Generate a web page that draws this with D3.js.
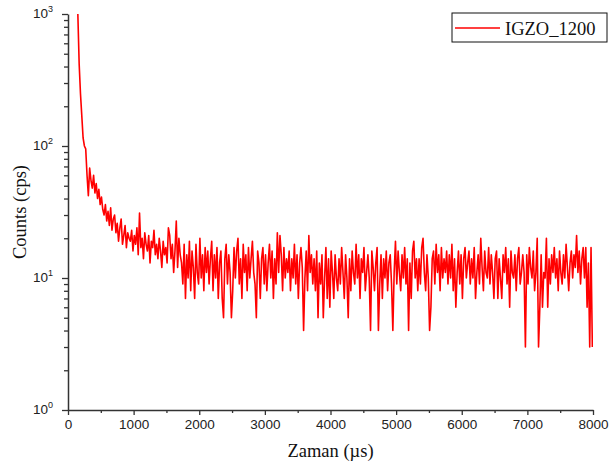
<!DOCTYPE html>
<html>
<head>
<meta charset="utf-8">
<script src="https://cdn.jsdelivr.net/npm/d3@7"></script>
<style>
  body { margin: 0; background: #fff; }
</style>
</head>
<body>
<svg width="610" height="464"></svg>
<script>

// sample times: first channel and channel width (µs)
let timeStart = 150, timeStep = 20;

// counts, one per channel, 20 per row
let counts = [
  1000, 420, 250, 170, 115, 100, 95, 60, 42, 68, 55, 48, 60, 44, 52, 40, 47, 36, 41, 33,
  30, 36, 27, 32, 25, 34, 23, 28, 30, 22, 26, 19, 24, 28, 18, 21, 25, 17, 22, 20,
  19, 23, 16, 21, 18, 24, 15, 31, 17, 20, 14, 22, 18, 16, 21, 13, 19, 17, 23, 15,
  18, 14, 20, 16, 12, 19, 15, 17, 13, 24, 21, 14, 18, 11, 16, 27, 12, 20, 15, 13,
  9, 18, 7, 15, 10, 19, 8, 16, 12, 7, 18, 11, 9, 20, 10, 15, 8, 17, 11, 16,
  9, 14, 19, 8, 15, 10, 17, 7, 13, 16, 7, 5, 14, 18, 9, 15, 11, 5, 8, 17,
  10, 16, 20, 9, 14, 7, 18, 11, 15, 8, 17, 10, 14, 19, 11, 9, 5, 16, 13, 7,
  14, 17, 9, 15, 8, 13, 18, 10, 16, 7, 14, 9, 22, 11, 21, 15, 8, 17, 10, 14,
  11, 16, 8, 14, 10, 18, 9, 15, 7, 13, 17, 12, 4, 10, 16, 8, 21, 11, 15, 9,
  14, 8, 16, 5, 13, 9, 15, 5, 10, 17, 7, 14, 6, 16, 11, 7, 15, 10, 8, 14,
  9, 17, 11, 7, 15, 10, 5, 14, 8, 16, 11, 9, 18, 10, 15, 7, 14, 11, 17, 8,
  11, 15, 10, 4, 16, 12, 8, 13, 17, 4, 9, 15, 7, 14, 10, 16, 8, 13, 15, 9,
  4, 11, 19, 9, 16, 11, 8, 15, 10, 17, 9, 14, 4, 13, 7, 16, 19, 10, 14, 8,
  14, 9, 17, 20, 11, 8, 15, 10, 4, 6, 14, 16, 9, 18, 11, 15, 8, 17, 10, 14,
  11, 16, 9, 15, 10, 18, 8, 14, 6, 11, 16, 9, 15, 7, 14, 17, 10, 13, 16, 9,
  14, 10, 17, 7, 11, 15, 9, 20, 12, 8, 16, 11, 10, 17, 9, 15, 11, 7, 14, 16,
  7, 14, 10, 7, 15, 11, 17, 9, 14, 6, 16, 11, 10, 15, 8, 14, 17, 9, 11, 15,
  11, 3, 15, 9, 17, 12, 10, 16, 8, 11, 20, 3, 6, 15, 6, 11, 10, 20, 6, 14,
  9, 15, 11, 17, 10, 14, 8, 16, 11, 9, 15, 10, 18, 12, 8, 13, 16, 10, 15, 12,
  21, 11, 16, 9, 14, 17, 10, 17, 6, 13, 3, 17, 3
];

let seriesName = "IGZO_1200";
let xTicks = [0, 1000, 2000, 3000, 4000, 5000, 6000, 7000, 8000];
let xMinorTicks = [500, 1500, 2500, 3500, 4500, 5500, 6500, 7500];
let yTicks = [1, 10, 100, 1000];
let yTickExps = ["0", "1", "2", "3"];

let svg = d3.select("svg");
let plotLeft = 68, plotRight = 593, plotTop = 14, plotBottom = 410;

let x = d3.scaleLinear().domain([0, 8000]).range([plotLeft, plotRight]);
let y = d3.scaleLog().domain([1, 1000]).range([plotBottom, plotTop]);

// minor ticks on y: 2..9 in each decade
let yMinorTicks = [];
yTicks.slice(0, 3).forEach(d => {
  [2, 3, 4, 5, 6, 7, 8, 9].forEach(m => yMinorTicks.push(d * m));
});

let axisColor = "#333";
let sans = "'Liberation Sans', Arial, sans-serif";
let serif = "'Liberation Serif', 'Times New Roman', serif";

// x axis
let gx = svg.append("g")
  .attr("transform", "translate(0," + plotBottom + ")")
  .call(d3.axisBottom(x).tickValues(xTicks).tickFormat(d3.format("d"))
    .tickSize(5).tickSizeOuter(0).tickPadding(4));
svg.append("g")
  .attr("transform", "translate(0," + plotBottom + ")")
  .call(d3.axisBottom(x).tickValues(xMinorTicks).tickSize(3).tickFormat(""))
  .select(".domain").remove();

// y axis
let gy = svg.append("g")
  .attr("transform", "translate(" + plotLeft + ",0)")
  .call(d3.axisLeft(y).tickValues(yTicks).tickSize(6).tickSizeOuter(0).tickFormat(""));
svg.append("g")
  .attr("transform", "translate(" + plotLeft + ",0)")
  .call(d3.axisLeft(y).tickValues(yMinorTicks).tickSize(4).tickFormat(""))
  .select(".domain").remove();

svg.selectAll(".domain").attr("stroke", axisColor).attr("stroke-width", 1.5);
svg.selectAll(".tick line").attr("stroke", axisColor).attr("stroke-width", 1.3);

gx.selectAll(".tick text")
  .style("font-size", "13.5px")
  .style("font-family", sans)
  .attr("fill", "#222");

// y tick labels as 10^n
let yl = svg.append("g").selectAll("text")
  .data(yTicks)
  .enter()
  .append("text")
  .attr("x", plotLeft - 15)
  .attr("y", d => y(d) + 4)
  .attr("text-anchor", "end")
  .style("font-family", sans)
  .style("font-size", "13.5px")
  .attr("fill", "#222");
yl.append("tspan").text("10");
yl.append("tspan")
  .attr("dy", -6)
  .style("font-size", "9px")
  .text((d, i) => yTickExps[i]);

// data line
let line = d3.line()
  .x((d, i) => x(timeStart + i * timeStep))
  .y(d => y(d));

svg.append("defs").append("clipPath").attr("id", "clip")
  .append("rect")
  .attr("x", plotLeft).attr("y", plotTop)
  .attr("width", plotRight - plotLeft).attr("height", plotBottom - plotTop);

svg.append("path")
  .datum(counts)
  .attr("clip-path", "url(#clip)")
  .attr("d", line)
  .attr("fill", "none")
  .attr("stroke", "#ff0000")
  .attr("stroke-width", 1.6)
  .attr("stroke-linejoin", "round");

// axis titles
svg.append("text")
  .attr("x", (plotLeft + plotRight) / 2)
  .attr("y", 457)
  .attr("text-anchor", "middle")
  .style("font-family", serif)
  .style("font-size", "18.5px")
  .attr("fill", "#111")
  .text("Zaman (\u00b5s)");

svg.append("text")
  .attr("transform", "translate(26," + ((plotTop + plotBottom) / 2) + ") rotate(-90)")
  .attr("text-anchor", "middle")
  .style("font-family", serif)
  .style("font-size", "18.5px")
  .attr("fill", "#111")
  .text("Counts (cps)");

// legend
let lg = svg.append("g");
lg.append("rect")
  .attr("x", 452).attr("y", 13)
  .attr("width", 155).attr("height", 29)
  .attr("fill", "#fff")
  .attr("stroke", "#111")
  .attr("stroke-width", 1);
lg.append("line")
  .attr("x1", 455).attr("x2", 500)
  .attr("y1", 28).attr("y2", 28)
  .attr("stroke", "#ff0000")
  .attr("stroke-width", 1.5);
lg.append("text")
  .attr("x", 505).attr("y", 34.5)
  .style("font-family", serif)
  .style("font-size", "18.5px")
  .attr("fill", "#111")
  .text(seriesName);

</script>
</body>
</html>
